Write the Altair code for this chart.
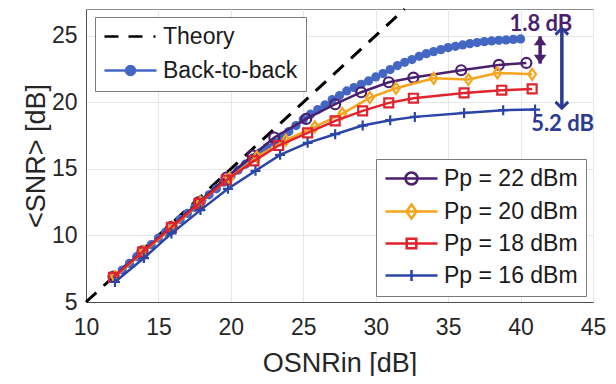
import altair as alt
import pandas as pd

# ---------------- data ----------------
theory_x = [10, 32]
theory_y = [5, 27]

b2b_x = [12.0, 12.5, 13.0, 13.5, 14.0, 14.5, 15.0, 15.5, 16.0, 16.5, 17.0, 17.5,
         18.0, 18.5, 19.0, 19.5, 20.0, 20.5, 21.0, 21.5, 22.0, 22.5, 23.0, 23.5,
         24.0, 24.5, 25.0, 25.5, 26.0, 26.5, 27.0, 27.5, 28.0, 28.5, 29.0, 29.5,
         30.0, 30.5, 31.0, 31.5, 32.0, 32.5, 33.0, 33.5, 34.0, 34.5, 35.0, 35.5,
         36.0, 36.5, 37.0, 37.5, 38.0, 38.5, 39.0, 39.5, 40.0]
b2b_y = [6.95, 7.4, 7.9, 8.4, 8.85, 9.3, 9.8, 10.25, 10.7, 11.2, 11.65, 12.1,
         12.6, 13.05, 13.5, 14.0, 14.45, 14.9, 15.35, 15.8, 16.2, 16.6, 17.0, 17.4,
         17.8, 18.25, 18.7, 19.1, 19.45, 19.8, 20.2, 20.5, 20.85, 21.1, 21.35, 21.6,
         21.9, 22.15, 22.45, 22.75, 23.0, 23.2, 23.45, 23.65, 23.8, 23.95, 24.1, 24.2,
         24.3, 24.4, 24.48, 24.55, 24.6, 24.65, 24.68, 24.72, 24.75]

pp22_x = [11.9, 13.9, 15.9, 17.8, 19.7, 21.5, 23.0, 25.2, 27.2, 29.0, 30.9, 32.6, 35.9, 38.5, 40.4]
pp22_y = [6.9, 8.8, 10.65, 12.5, 14.35, 16.0, 17.35, 18.75, 19.85, 20.75, 21.5, 21.85, 22.4, 22.8, 22.95]

pp20_x = [12.0, 14.0, 16.0, 17.9, 19.9, 21.8, 23.8, 25.8, 27.7, 29.6, 31.4, 34.0, 36.4, 38.4, 40.8]
pp20_y = [6.9, 8.8, 10.6, 12.5, 14.3, 15.9, 17.15, 18.15, 19.15, 20.35, 21.05, 21.8, 21.7, 22.2, 22.1]

pp18_x = [11.9, 13.9, 15.9, 17.8, 19.7, 21.6, 23.3, 25.3, 27.2, 29.1, 30.9, 32.6, 36.1, 38.7, 40.8]
pp18_y = [6.85, 8.75, 10.6, 12.4, 14.15, 15.6, 16.75, 17.7, 18.6, 19.35, 19.95, 20.3, 20.7, 20.9, 21.0]

pp16_x = [12.0, 14.0, 15.9, 17.9, 19.8, 21.7, 23.4, 25.3, 27.2, 29.1, 31.0, 32.7, 36.1, 38.8, 41.0]
pp16_y = [6.5, 8.3, 10.15, 11.9, 13.5, 14.85, 16.05, 16.95, 17.6, 18.25, 18.65, 18.9, 19.2, 19.4, 19.45]

legend1_labels = ["Theory", "Back-to-back"]
legend2_labels = ["Pp = 22 dBm", "Pp = 20 dBm", "Pp = 18 dBm", "Pp = 16 dBm"]

ann_labels = ["1.8 dB", "5.2 dB"]
ann_x = [41.4, 42.9]
ann_y = [25.9, 18.35]
arrow_x = [41.35, 42.85]
arrow_top = [24.95, 25.55]
arrow_bottom = [22.9, 19.55]

x_ticks = [10, 15, 20, 25, 30, 35, 40, 45]
y_ticks = [5, 10, 15, 20, 25]

# ---------------- styles ----------------
C_THEORY = "#000000"
C_B2B = "#4467c4"
C_22 = "#4a1f6e"
C_20 = "#f7a41d"
C_18 = "#e0232d"
C_16 = "#2a45a5"
C_ANN1 = "#4a1f6e"
C_ANN2 = "#2b3a92"

FONT = "Liberation Sans"
DIAMOND = "M0,-1L0.7,0L0,1L-0.7,0Z"
PLUS = "M-1,0L1,0M0,-1L0,1"

# legend symbol paths (unit = 10px, symbol drawn from -1 to 4.2)
L_THEORY = "M-1,0L0.4,0M1.4,0L2.8,0M3.9,0L4.1,0"
L_B2B = "M-1,0L4.2,0M1.15,0A0.45,0.45 0 1,0 2.05,0A0.45,0.45 0 1,0 1.15,0"
L_CIRC = "M-1,0L4.2,0M1.0,0A0.6,0.6 0 1,0 2.2,0A0.6,0.6 0 1,0 1.0,0"
L_DIAM = "M-1,0L4.2,0M1.6,-0.7L2.1,0L1.6,0.7L1.1,0Z"
L_SQ = "M-1,0L4.2,0M1.12,-0.48L2.08,-0.48L2.08,0.48L1.12,0.48Z"
L_PLUS = "M-1,0L4.2,0M1.6,-0.55L1.6,0.55"

xscale = alt.Scale(domain=[10, 45], nice=False, zero=False)
yscale = alt.Scale(domain=[5, 27], nice=False, zero=False)
xenc = alt.X("x:Q", scale=xscale,
             axis=alt.Axis(values=x_ticks, title="OSNRin [dB]", labelPadding=14,
                           titlePadding=11, labelFlush=False))
yenc = alt.Y("y:Q", scale=yscale,
             axis=alt.Axis(values=y_ticks, title="<SNR> [dB]", labelPadding=9,
                           titlePadding=1, labelFlush=False))


def series(xs, ys, color, shape, size, filled, width=2.5):
    df = pd.DataFrame({"x": xs, "y": ys})
    return alt.Chart(df).mark_line(
        color=color, strokeWidth=width,
        point=alt.OverlayMarkDef(shape=shape, size=size, filled=filled,
                                 color=color, strokeWidth=2.2, opacity=1)
    ).encode(x=xenc, y=yenc)


theory = alt.Chart(pd.DataFrame({"x": theory_x, "y": theory_y})).mark_line(
    color=C_THEORY, strokeWidth=3, strokeDash=[14, 10]
).encode(x=xenc, y=yenc)

b2b = series(b2b_x, b2b_y, C_B2B, "circle", 85, True)
s22 = series(pp22_x, pp22_y, C_22, "circle", 100, False)
s20 = series(pp20_x, pp20_y, C_20, DIAMOND, 120, False)
s18 = series(pp18_x, pp18_y, C_18, "square", 80, False)
s16 = series(pp16_x, pp16_y, C_16, PLUS, 100, False)

leg_common = dict(orient="none", fillColor="white", strokeColor="#7a7a7a", padding=8,
                  labelFont=FONT, labelFontSize=23, labelColor="#1a1a1a", labelLimit=400,
                  symbolSize=400, symbolStrokeWidth=2.5, labelOffset=37, symbolOpacity=1,
                  cornerRadius=0, title=None)

leg1 = alt.Legend(legendX=9, legendY=8, rowPadding=10, **leg_common)
leg1_df = pd.DataFrame({"leg1": legend1_labels})
legend1_layer = alt.Chart(leg1_df).mark_point(opacity=0, filled=False, strokeWidth=2.5).encode(
    shape=alt.Shape("leg1:N", scale=alt.Scale(domain=legend1_labels, range=[L_THEORY, L_B2B]), legend=leg1),
    stroke=alt.Stroke("leg1:N", scale=alt.Scale(domain=legend1_labels, range=[C_THEORY, C_B2B]), legend=leg1),
    fill=alt.Fill("leg1:N", scale=alt.Scale(domain=legend1_labels, range=["transparent", C_B2B]), legend=leg1),
)

leg2 = alt.Legend(legendX=290, legendY=150, rowPadding=8, **leg_common)
leg2_df = pd.DataFrame({"leg2": legend2_labels})
legend2_layer = alt.Chart(leg2_df).mark_point(opacity=0, filled=False, strokeWidth=2.5).encode(
    shape=alt.Shape("leg2:N", scale=alt.Scale(domain=legend2_labels, range=[L_CIRC, L_DIAM, L_SQ, L_PLUS]), legend=leg2),
    stroke=alt.Stroke("leg2:N", scale=alt.Scale(domain=legend2_labels, range=[C_22, C_20, C_18, C_16]), legend=leg2),
)

# annotations (double arrows + labels)
ann_layers = []
ann_colors = [C_ANN1, C_ANN2]
head_up = ["M-1,1.4L0,0L1,1.4Z", "M-1,1L0,0L1,1"]
head_dn = ["M-1,-1.4L0,0L1,-1.4Z", "M-1,-1L0,0L1,-1"]
head_fill = [True, False]
for i in range(2):
    c = ann_colors[i]
    rdf = pd.DataFrame({"x": [arrow_x[i]], "y": [arrow_top[i]], "y2": [arrow_bottom[i]]})
    ann_layers.append(alt.Chart(rdf).mark_rule(strokeWidth=3.5, color=c).encode(
        x=alt.X("x:Q", scale=xscale), y=alt.Y("y:Q", scale=yscale), y2="y2:Q"))
    udf = pd.DataFrame({"x": [arrow_x[i]], "y": [arrow_top[i]]})
    ddf = pd.DataFrame({"x": [arrow_x[i]], "y": [arrow_bottom[i]]})
    for d, shp in ((udf, head_up[i]), (ddf, head_dn[i])):
        ann_layers.append(alt.Chart(d).mark_point(
            shape=shp, filled=head_fill[i], color=c, strokeWidth=3, size=160, opacity=1
        ).encode(x=alt.X("x:Q", scale=xscale), y=alt.Y("y:Q", scale=yscale)))
    tdf = pd.DataFrame({"x": [ann_x[i]], "y": [ann_y[i]], "t": [ann_labels[i]]})
    ann_layers.append(alt.Chart(tdf).mark_text(
        font="Lato", fontWeight="bold", fontSize=22, align="center", baseline="middle", color=c
    ).encode(x=alt.X("x:Q", scale=xscale), y=alt.Y("y:Q", scale=yscale), text="t:N"))

chart = alt.layer(
    theory, b2b, s22, s20, s18, s16, *ann_layers, legend1_layer, legend2_layer
).resolve_scale(
    shape="independent", stroke="independent", fill="independent"
).resolve_legend(
    shape="independent", stroke="independent", fill="independent"
).properties(
    width=507, height=293,
    autosize=alt.AutoSizeParams(type="none"),
    padding={"left": 78, "top": 1, "right": 15, "bottom": 74},
).configure_view(
    stroke="#8c8c8c", strokeWidth=1
).configure_axis(
    grid=True, gridColor="#e6e6e6", gridWidth=1,
    domainColor="#4d4d4d", domainWidth=1, ticks=False,
    labelFont=FONT, labelFontSize=23, labelColor="#262626",
    titleFont=FONT, titleFontSize=27, titleFontWeight="normal", titleColor="#262626",
)

chart.save("out.html", embed_options={"renderer": "svg", "actions": False})
